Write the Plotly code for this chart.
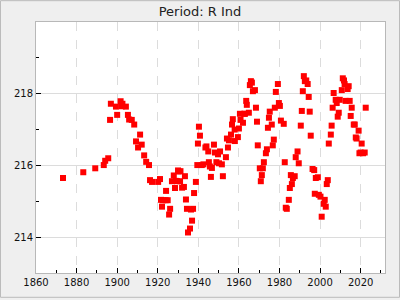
import plotly.graph_objects as go

years = [1873.3, 1883.3, 1889.2, 1893.4, 1894.1, 1895.6, 1896.5, 1896.9, 1899.4, 1900.0,
         1901.7, 1902.3, 1902.6, 1904.3, 1905.3, 1905.9, 1907.2, 1908.4, 1909.3, 1910.3,
         1911.3, 1912.1, 1913.3, 1914.3, 1915.7, 1916.2, 1917.2, 1920.2, 1921.1, 1921.6,
         1922.1, 1922.5, 1923.9, 1924.1, 1924.9, 1925.6, 1926.1, 1927.0, 1927.9, 1928.5,
         1928.9, 1929.5, 1930.0, 1930.3, 1931.0, 1931.2, 1932.0, 1932.9, 1933.4, 1933.9,
         1934.4, 1934.9, 1935.9, 1936.4, 1936.9, 1937.4, 1937.9, 1938.8, 1939.5, 1939.8,
         1940.3, 1940.8, 1941.7, 1942.5, 1943.5, 1944.0, 1944.9, 1945.2, 1945.7, 1946.2,
         1946.7, 1947.7, 1948.2, 1948.9, 1949.7, 1950.2, 1950.7, 1951.6, 1952.1, 1953.6,
         1954.1, 1954.6, 1955.1, 1956.1, 1956.6, 1957.0, 1957.9, 1958.0, 1959.5, 1960.0,
         1960.5, 1960.8, 1962.0, 1962.5, 1963.0, 1963.6, 1963.9, 1964.9, 1965.4, 1965.9,
         1966.4, 1966.9, 1967.9, 1968.4, 1968.9, 1969.3, 1970.3, 1970.8, 1971.3, 1971.8,
         1972.3, 1973.3, 1973.8, 1974.3, 1974.8, 1975.2, 1976.2, 1976.7, 1977.2, 1977.7,
         1978.2, 1979.2, 1979.7, 1980.2, 1980.7, 1982.1, 1982.6, 1983.1, 1983.6, 1984.6,
         1985.1, 1985.6, 1986.1, 1986.6, 1987.5, 1988.0, 1988.9, 1989.5, 1990.5, 1991.0,
         1991.5, 1992.0, 1992.5, 1993.2, 1993.9, 1994.4, 1994.9, 1995.4, 1996.3, 1997.1,
         1997.4, 1997.9, 1998.9, 1999.4, 2000.2, 2000.8, 2001.8, 2002.3, 2002.8, 2003.3,
         2003.8, 2004.3, 2005.3, 2005.7, 2006.2, 2006.7, 2007.7, 2008.2, 2008.7, 2009.2,
         2009.7, 2010.7, 2011.2, 2011.8, 2012.1, 2012.6, 2013.6, 2014.1, 2014.6, 2015.1,
         2015.6, 2016.6, 2017.1, 2017.6, 2018.0, 2019.0, 2019.4, 2020.0, 2020.5, 2021.2,
         2022.0, 2022.5]

values = [215.65, 215.81, 215.92, 216.01, 216.13, 216.20, 217.27, 217.72, 217.64, 217.41,
          217.79, 217.65, 217.72, 217.64, 217.41, 217.28, 217.27, 217.14, 216.67, 216.50,
          216.86, 216.58, 216.28, 216.10, 216.01, 215.59, 215.54, 215.54, 215.62, 215.04,
          214.85, 215.03, 215.03, 215.29, 215.03, 214.63, 214.79, 215.56, 215.72, 215.37,
          215.57, 215.56, 215.86, 215.83, 215.56, 215.84, 215.38, 215.40, 215.70, 215.05,
          214.79, 214.13, 214.24, 214.77, 214.46, 214.79, 215.23, 215.54, 216.01, 216.61,
          217.08, 216.83, 216.01, 216.03, 216.50, 216.53, 216.39, 216.09, 215.97, 215.68,
          215.93, 216.58, 216.36, 216.09, 216.31, 216.06, 216.39, 216.03, 215.70, 216.23,
          216.75, 216.50, 216.70, 216.86, 217.14, 217.29, 217.00, 216.68, 216.79, 217.03,
          217.44, 217.27, 217.19, 217.44, 217.44, 217.80, 217.69, 217.47, 218.24, 218.35,
          218.31, 218.07, 218.10, 217.61, 217.22, 216.56, 215.92, 215.56, 215.73, 215.92,
          216.09, 216.34, 216.45, 217.05, 217.33, 217.50, 217.14, 216.56, 216.72, 217.61,
          218.05, 218.27, 217.74, 217.66, 217.25, 217.16, 216.09, 214.82, 214.79, 215.04,
          215.37, 215.73, 215.48, 215.65, 215.70, 216.23, 216.39, 216.06, 217.11, 217.52,
          218.07, 218.49, 218.35, 218.37, 218.27, 217.91, 217.50, 216.83, 215.90, 215.87,
          215.21, 215.65, 215.67, 215.18, 215.13, 214.57, 214.93, 215.04, 214.85, 215.48,
          215.59, 216.61, 216.86, 217.11, 217.61, 218.02, 217.83, 217.74, 217.36, 217.47,
          217.83, 218.10, 218.43, 218.37, 218.27, 217.80, 218.13, 218.21, 217.80, 217.38,
          217.61, 217.14, 217.14, 216.78, 216.75, 216.97, 216.34, 216.36, 216.61, 216.34,
          216.36, 217.61]

x_ticks = [1860, 1880, 1900, 1920, 1940, 1960, 1980, 2000, 2020]
y_ticks = [214, 216, 218]
title_text = "Period: R Ind"

fig = go.Figure()
fig.add_trace(go.Scatter(
    x=years, y=values, mode="markers",
    marker=dict(symbol="square", size=6, color="#ff0000", line=dict(width=0)),
    showlegend=False, hoverinfo="skip",
))

font = "DejaVu Sans"
fig.update_layout(
    width=400, height=300,
    margin=dict(l=36, r=15, t=22, b=25),
    paper_bgcolor="#efefef", plot_bgcolor="#ffffff",
    font=dict(family=font, size=10, color="#111111"),
    title=dict(text=title_text, x=0.5, xref="container", xanchor="center",
               y=1 - 11 / 300, yref="container", yanchor="middle",
               font=dict(family=font, size=13, color="#222222")),
    showlegend=False,
)
fig.update_xaxes(
    range=[1860, 2032], tickvals=x_ticks, ticktext=[str(v) for v in x_ticks],
    ticks="inside", ticklen=5, tickwidth=1, tickcolor="#000000",
    showline=True, linecolor="#b8b8b8", linewidth=1, mirror=True,
    showgrid=True, gridcolor="#dcdcdc", gridwidth=1, griddash="dash",
    zeroline=False, tickfont=dict(family=font, size=10, color="#111111"),
    minor=dict(dtick=10, tick0=1860, ticks="inside", ticklen=3, tickcolor="#000000", showgrid=False),
)
fig.update_yaxes(
    range=[213, 220], tickvals=y_ticks, ticktext=[str(v) for v in y_ticks],
    ticks="inside", ticklen=5, tickwidth=1, tickcolor="#000000",
    showline=True, linecolor="#b8b8b8", linewidth=1, mirror=True,
    showgrid=True, gridcolor="#dcdcdc", gridwidth=1,
    zeroline=False, tickfont=dict(family=font, size=10, color="#111111"),
    minor=dict(dtick=1, tick0=213, ticks="inside", ticklen=3, tickcolor="#000000", showgrid=False),
)
pw, ph = 400 - 36 - 15, 300 - 22 - 25
fig.add_shape(type="rect", xref="paper", yref="paper",
              x0=(0.5 - 36) / pw, x1=(399.5 - 36) / pw,
              y0=(275 - 299.5) / ph, y1=(275 - 0.5) / ph,
              line=dict(color="#bbbbbb", width=1), fillcolor="rgba(0,0,0,0)", layer="below")
fig.write_html("out.html")
